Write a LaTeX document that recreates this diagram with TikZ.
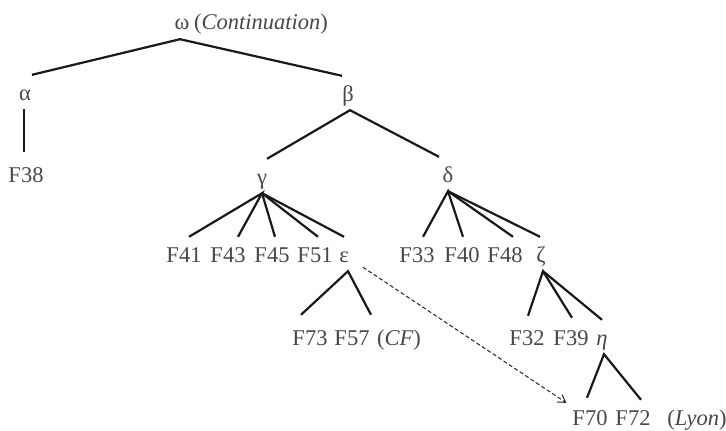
\documentclass[tikz,border=0pt]{standalone}
\usepackage{fontspec}
\setmainfont{Liberation Serif}
\usetikzlibrary{arrows.meta}
\begin{document}
\begin{tikzpicture}[x=1pt,y=-1pt,
  lbl/.style={anchor=base, inner sep=0pt, text height=25pt, text depth=9pt, text=black!72, font=\fontsize{22.5}{27}\selectfont},
  note/.style={lbl},
  edge/.style={draw=black!90, line width=2.2pt},
  refarrow/.style={draw=black!85, line width=1pt, dash pattern=on 4pt off 2.5pt, -{Straight Barb[length=7pt,width=9pt]}}]
\useasboundingbox (0,0) rectangle (726,431);

% labels
\node[lbl] (om) at (182,30) {ω};
\node[note, anchor=base west] (cont) at (194,30) {(\textit{Continuation})};
\node[lbl] (al) at (25,100) {α};
\node[lbl] (be) at (348,101) {β};
\node[lbl] (F38) at (26,182) {F38};
\node[lbl] (ga) at (262,184) {γ};
\node[lbl] (de) at (448,182) {δ};
\node[lbl] (F41) at (184,262) {F41};
\node[lbl] (F43) at (228,262) {F43};
\node[lbl] (F45) at (272,262) {F45};
\node[lbl] (F51) at (315,262) {F51};
\node[lbl] (ep) at (344,262) {ε};
\node[lbl] (F33) at (417,262) {F33};
\node[lbl] (F40) at (462,262) {F40};
\node[lbl] (F48) at (505,262) {F48};
\node[lbl] (ze) at (541,262) {ζ};
\node[lbl] (F73) at (310,345) {F73};
\node[lbl] (F57) at (352,345) {F57};
\node[note] (cf) at (399,345) {(\textit{CF})};
\node[lbl] (F32) at (527,345) {F32};
\node[lbl] (F39) at (571,345) {F39};
\node[lbl] (et) at (602,345) {\textit{η}};
\node[lbl] (F70) at (590,425) {F70};
\node[lbl] (F72) at (633,425) {F72};
\node[note] (lyon) at (697,425) {(\textit{Lyon})};

% tree edges
\draw[edge] ([xshift=7pt]al.north) -- ([xshift=-2pt]om.south) -- ([xshift=-6pt]be.north);
\draw[edge] ([xshift=-1pt]al.south) -- ([xshift=-2pt,yshift=5pt]F38.north);
\draw[edge] ([xshift=5pt]ga.north) -- ([xshift=2pt]be.south) -- ([xshift=-9pt]de.north);
\draw[edge] ([xshift=5pt]F41.north) -- (ga.south) -- ([xshift=10pt]F43.north);
\draw[edge] (ga.south) -- ([xshift=3pt]F45.north);
\draw[edge] (ga.south) -- ([xshift=3pt]F51.north);
\draw[edge] (ga.south) -- (ep.north);
\draw[edge] ([xshift=6pt]F33.north) -- (de.south) -- ([xshift=1pt]F40.north);
\draw[edge] (de.south) -- ([xshift=8pt]F48.north);
\draw[edge] (de.south) -- ([xshift=-1pt]ze.north);
\draw[edge] ([xshift=-9pt,yshift=5pt]F73.north) -- ([xshift=4pt]ep.south) -- ([xshift=19pt,yshift=5pt]F57.north);
\draw[edge] ([xshift=1pt,yshift=4pt]F32.north) -- ([xshift=2pt]ze.south) -- ([xshift=1pt,yshift=2pt]F39.north);
\draw[edge] ([xshift=2pt]ze.south) -- (et.north);
\draw[edge] ([xshift=-3pt,yshift=2pt]F70.north) -- ([xshift=2pt]et.south) -- ([xshift=8pt]F72.north);

% dashed reference
\draw[refarrow] ([xshift=14pt,yshift=4pt]ep.south east) -- ([xshift=-6pt,yshift=-3pt]F70.north west);
\end{tikzpicture}
\end{document}
